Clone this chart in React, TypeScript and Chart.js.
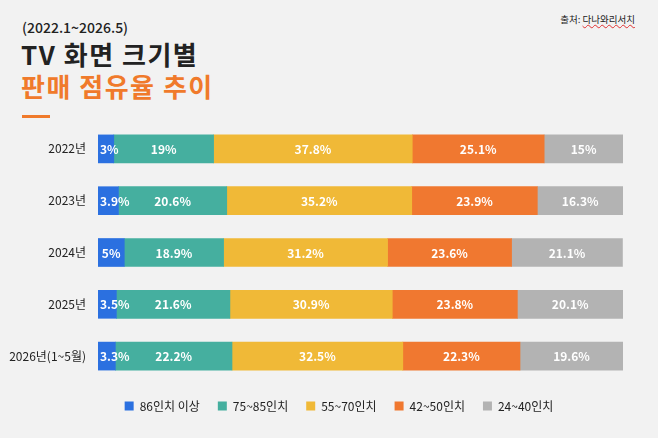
import { useRef, useEffect } from "react"
import { Chart, registerables } from "chart.js"

Chart.register(...registerables)

const years = ["2022년", "2023년", "2024년", "2025년", "2026년(1~5월)"]
const sizeLabels = ["86인치 이상", "75~85인치", "55~70인치", "42~50인치", "24~40인치"]
const sizeColors = ["#2b70e0", "#45af9f", "#f0b937", "#f07830", "#b3b3b3"]

const inch86 = [3, 3.9, 5, 3.5, 3.3]
const inch75 = [19, 20.6, 18.9, 21.6, 22.2]
const inch55 = [37.8, 35.2, 31.2, 30.9, 32.5]
const inch42 = [25.1, 23.9, 23.6, 23.8, 22.3]
const inch24 = [15, 16.3, 21.1, 20.1, 19.6]

const FONT = "'Noto Sans CJK KR', 'Noto Sans', sans-serif"

// white % labels; narrow segments get their label pushed right so it stays on the bar
const valueLabels = {
  id: "valueLabels",
  afterDatasetsDraw(chart: Chart) {
    const { ctx } = chart
    ctx.save()
    ctx.fillStyle = "#ffffff"
    ctx.font = `600 12px ${FONT}`
    ctx.textAlign = "center"
    ctx.textBaseline = "middle"
    chart.data.datasets.forEach((ds, i) => {
      const meta = chart.getDatasetMeta(i)
      meta.data.forEach((bar: any, j) => {
        const { x, base, y } = bar.getProps(["x", "base", "y"], true)
        const text = `${ds.data[j]}%`
        const w = ctx.measureText(text).width
        let cx = (x + base) / 2
        if (cx - w / 2 < base + 2) cx = base + 2 + w / 2
        ctx.fillText(text, cx, y + 0.5)
      })
    })
    ctx.restore()
  },
}

export default function App() {
  const chartRef = useRef<HTMLCanvasElement>(null)

  useEffect(() => {
    document.body.style.margin = "0"
    if (!chartRef.current) return
    const ctx = chartRef.current.getContext("2d")
    if (!ctx) return

    const series = [inch86, inch75, inch55, inch42, inch24]
    const data = {
      labels: years,
      datasets: series.map((values, i) => ({
        label: sizeLabels[i],
        data: values,
        backgroundColor: sizeColors[i],
        borderWidth: 0,
        barThickness: 28,
      })),
    }

    const myChart = new Chart(ctx, {
      type: "bar",
      data,
      options: {
        indexAxis: "y",
        responsive: false,
        animation: false,
        layout: { padding: { top: 123, right: 0, left: 0, bottom: 16 } },
        scales: {
          x: {
            stacked: true,
            min: 0,
            max: 99.9,
            display: false,
          },
          y: {
            stacked: true,
            grid: { display: false },
            border: { display: false },
            ticks: {
              padding: 4,
              color: "#222",
              font: { family: FONT, size: 12 },
            },
            afterFit: (scale: any) => {
              scale.width = 98
            },
          },
          // empty right-hand spacer (canvas is 20px wider than the page, so the legend centres like the original)
          yRight: {
            type: "category",
            position: "right",
            grid: { display: false },
            border: { display: false },
            ticks: { display: false },
            afterFit: (scale: any) => {
              scale.width = 55
            },
          },
        },
        plugins: {
          legend: {
            position: "bottom",
            labels: {
              boxWidth: 9,
              boxHeight: 9,
              padding: 18,
              color: "#222",
              font: { family: FONT, size: 12 },
            },
          },
          tooltip: { enabled: false },
        },
      },
      plugins: [valueLabels],
    })

    return () => {
      myChart.destroy()
    }
  }, [])

  return (
    <div style={{ position: "relative", width: 658, height: 438, background: "#f2f2f2", fontFamily: FONT, overflow: "hidden" }}>
      <div style={{ position: "absolute", left: 22, top: 17, fontSize: 14, fontWeight: 500, color: "#222" }}>(2022.1~2026.5)</div>
      <div style={{ position: "absolute", left: 21, top: 37, fontSize: 26, fontWeight: 700, color: "#222", lineHeight: "34px", letterSpacing: 1.5 }}>TV 화면 크기별</div>
      <div style={{ position: "absolute", left: 21, top: 69, fontSize: 26, fontWeight: 700, color: "#f07a2b", lineHeight: "34px", letterSpacing: 1.5 }}>판매 점유율 추이</div>
      <div style={{ position: "absolute", left: 22, top: 115, width: 28, height: 2.5, background: "#f07a2b" }} />
      <div style={{ position: "absolute", right: 23, top: 12, fontSize: 9.5, color: "#222" }}>
        출처: <span style={{ textDecoration: "underline wavy #e03030", textDecorationThickness: 1 }}>다나와리서치</span>
      </div>
      <canvas ref={chartRef} width={678} height={438} style={{ position: "absolute", left: 0, top: 0 }} />
    </div>
  )
}
